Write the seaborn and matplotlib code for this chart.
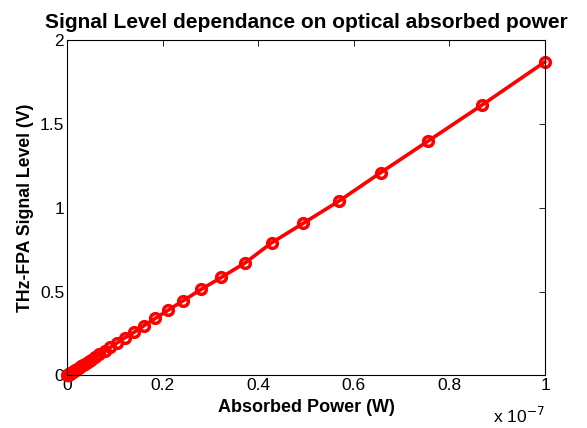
import numpy as np
import pandas as pd
import matplotlib
matplotlib.use("Agg")
import matplotlib.pyplot as plt
import seaborn as sns

# absorbed power in units of 1e-7 W
power = [1.0, 0.868, 0.755, 0.656, 0.569, 0.494, 0.428, 0.373, 0.323, 0.281,
         0.243, 0.212, 0.185, 0.161, 0.140, 0.121, 0.104, 0.0905, 0.0785, 0.068,
         0.059, 0.0512, 0.0444, 0.0385, 0.0334, 0.029, 0.0251, 0.0218, 0.0189, 0.0164,
         0.0142, 0.0123, 0.0107, 0.0093, 0.0080, 0.0070, 0.0060, 0.0052, 0.0045, 0.0039,
         0.0034, 0.0030, 0.0026, 0.0022, 0.0019, 0.0017, 0.0015, 0.0013, 0.0011, 0.0010]
signal = [1.870, 1.612, 1.397, 1.209, 1.040, 0.907, 0.791, 0.672, 0.585, 0.514,
          0.446, 0.390, 0.341, 0.297, 0.257, 0.225, 0.193, 0.168, 0.146, 0.126,
          0.109, 0.095, 0.082, 0.071, 0.062, 0.054, 0.046, 0.040, 0.035, 0.030,
          0.026, 0.023, 0.020, 0.017, 0.015, 0.013, 0.011, 0.0096, 0.0083, 0.0072,
          0.0063, 0.0055, 0.0048, 0.0041, 0.0035, 0.0031, 0.0028, 0.0024, 0.0020, 0.0018]

xticks = [0, 0.2, 0.4, 0.6, 0.8, 1]
xticklabels = ["0", "0.2", "0.4", "0.6", "0.8", "1"]
yticks = [0, 0.5, 1, 1.5, 2]
yticklabels = ["0", "0.5", "1", "1.5", "2"]

df = pd.DataFrame({"power": power, "signal": signal})

sns.set_style("white", {"text.color": "black", "axes.labelcolor": "black",
                        "xtick.color": "black", "ytick.color": "black",
                        "axes.edgecolor": "black"})
plt.rcParams["font.family"] = ["Liberation Sans", "DejaVu Sans"]

fig = plt.figure(figsize=(5.87, 4.28), dpi=100)
ax = fig.add_axes([0.1141, 0.1227, 0.8144, 0.7838])

sns.lineplot(data=df, x="power", y="signal", sort=False, ax=ax, color="red",
             linewidth=2.6, marker="o", markersize=7, markerfacecolor="none",
             markeredgecolor="red", markeredgewidth=2.5, clip_on=False)

ax.set_xlim(0, 1)
ax.set_ylim(0, 2)
ax.set_xticks(xticks)
ax.set_xticklabels(xticklabels)
ax.set_yticks(yticks)
ax.set_yticklabels(yticklabels)
ax.tick_params(direction="in", length=4, width=0.6, top=True, right=True,
               labelsize=12.5, colors="black", pad=2)
for s in ax.spines.values():
    s.set_color("black")
    s.set_linewidth(0.8)

ax.set_xlabel("Absorbed Power (W)", fontsize=13, fontweight="bold", labelpad=4,
              color="black")
ax.set_ylabel("THz-FPA Signal Level (V)", fontsize=12.7, fontweight="bold", labelpad=4,
              color="black")
ax.set_title("Signal Level dependance on optical absorbed power", fontsize=15,
             fontweight="bold", pad=9, color="black")
ax.text(1.0, -0.09, "x 10$^{-7}$", transform=ax.transAxes, ha="right", va="top",
        fontsize=12.5, color="black")

fig.savefig("out.png", dpi=100)
